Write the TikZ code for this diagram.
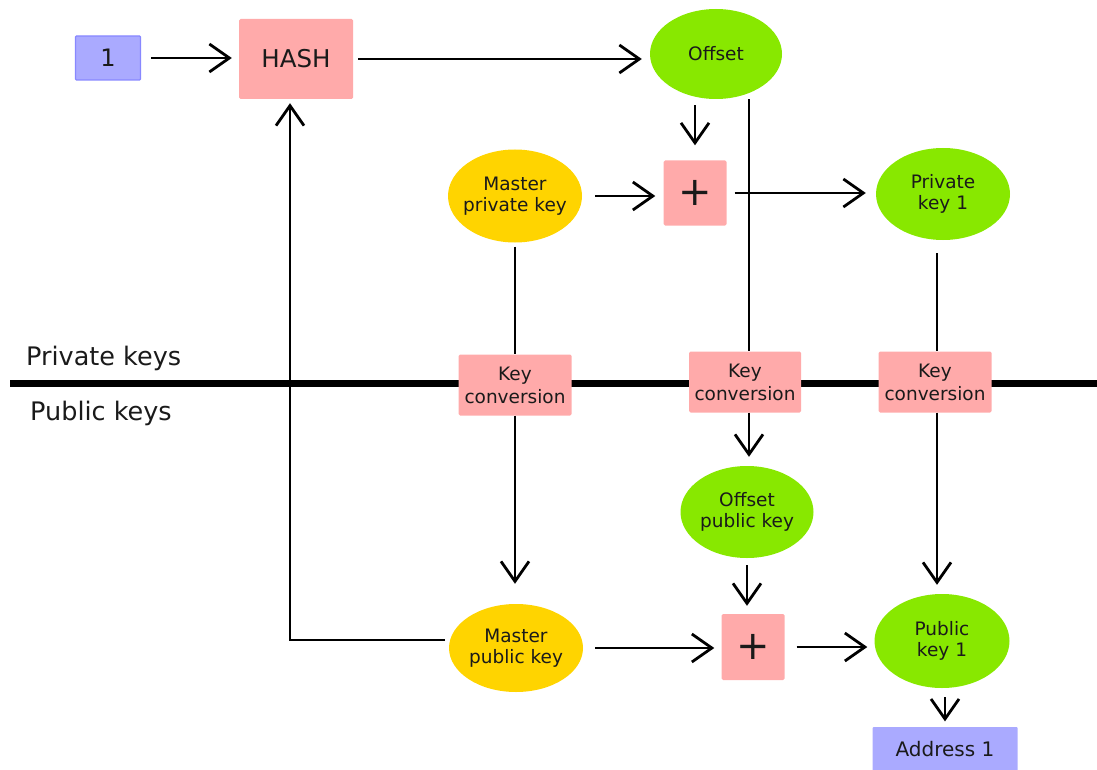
\documentclass[tikz,border=0pt]{standalone}
\usepackage{fontspec}
\setmainfont{DejaVu Sans}
\usetikzlibrary{arrows.meta,shapes.geometric}
\definecolor{pinkbox}{HTML}{FFAAAA}
\definecolor{bluebox}{HTML}{AAAAFF}
\definecolor{blueedge}{HTML}{8888FF}
\definecolor{greenell}{HTML}{88E800}
\definecolor{yellowell}{HTML}{FFD400}
\definecolor{txt}{HTML}{1A1A1A}
\tikzset{
  pbox/.style={rectangle, rounded corners=1.5pt, fill=pinkbox, draw=none, inner sep=0pt, text=txt, align=center},
  bbox/.style={rectangle, rounded corners=1pt, fill=bluebox, draw=blueedge, line width=1.2pt, inner sep=0pt, text=txt},
  ell/.style={ellipse, draw=none, inner xsep=-10pt, inner ysep=-4pt, text=txt, align=center, font=\fontsize{18.5pt}{21pt}\selectfont},
  gell/.style={ell, fill=greenell},
  yell/.style={ell, fill=yellowell},
  kc/.style={pbox, minimum width=113pt, minimum height=61pt, font=\fontsize{18.5pt}{23pt}\selectfont},
  plusbox/.style={pbox, minimum width=63pt, minimum height=65pt, font=\fontsize{40pt}{40pt}\selectfont},
  ln/.style={line width=2.8pt, draw=black},
  arr/.style={ln, -{Straight Barb[length=20pt,width=28pt]}},
  lbl/.style={anchor=west, text=txt, font=\fontsize{25.5pt}{28pt}\selectfont, inner sep=0pt},
}
\begin{document}
\begin{tikzpicture}[x=1pt,y=-1pt]
\useasboundingbox (0,0) rectangle (1097,770);
% divider
\coordinate (divL) at (10,383);
\coordinate (divR) at (1097,383);
\draw[line width=7pt] (divL) -- (divR);
\node[lbl] (privlbl) at (26,358) {Private keys};
\node[lbl] (publbl) at (30,413) {Public keys};

% nodes
\node[bbox, minimum width=65pt, minimum height=44pt, font=\fontsize{24pt}{24pt}\selectfont] (one) at (108,58) {1};
\node[pbox, minimum width=114pt, minimum height=80pt, font=\fontsize{24.5pt}{24pt}\selectfont] (hash) at (296,59) {HASH};
\node[gell, minimum width=132pt, minimum height=90pt] (offset) at (716,54) {Offset};
\node[yell, minimum width=134pt, minimum height=93pt] (mpk) at (515,196) {Master\\private key};
\node[plusbox] (plus1) at (695,193) {+};
\node[gell, minimum width=134pt, minimum height=92pt] (pk1) at (943,194) {Private\\key 1};
\node[kc] (kc1) at (515,385) {Key\\conversion};
\node[kc, minimum width=112pt] (kc2) at (745,382) {Key\\conversion};
\node[kc] (kc3) at (935,382) {Key\\conversion};
\node[gell, minimum width=133pt, minimum height=92pt] (opk) at (747,512) {Offset\\public key};
\node[plusbox, minimum height=66pt] (plus2) at (753,647) {+};
\node[yell, minimum width=134pt, minimum height=88pt] (mpub) at (516,648) {Master\\public key};
\node[gell, minimum width=135pt, minimum height=94pt] (pub1) at (942,641) {Public\\key 1};
\node[bbox, draw=none, minimum width=145pt, minimum height=44pt, font=\fontsize{20pt}{20pt}\selectfont] (addr) at (945,749) {Address 1};

% column coordinates
\coordinate (xoff) at (749,0);
\coordinate (xpk) at (937,0);
\coordinate (xpub) at (945,0);
\coordinate (bk) at (445,640);

% connectors
\draw[arr, shorten <=10pt, shorten >=7pt] (one.east) -- (one.east -| hash.west);
\draw[arr, shorten <=5pt, shorten >=8pt] (hash.east) -- (hash.east -| offset.west);
\draw[arr, shorten <=6pt, shorten >=15pt] (plus1.north |- offset.south) -- (plus1.north);
\draw[ln] (xoff |- offset.south) -- (xoff |- kc2.north);
\draw[arr, shorten <=13pt, shorten >=8pt] (mpk.east) -- (mpk.east -| plus1.west);
\draw[arr, shorten <=8pt, shorten >=10pt] (plus1.east) -- (plus1.east -| pk1.west);
\draw[ln, shorten <=4pt] (mpk.south) -- (kc1.north);
\draw[arr, shorten >=20pt] (kc1.south) -- (kc1.south |- mpub.north);
\draw[ln, shorten <=13pt] (xpk |- pk1.south) -- (xpk |- kc3.north);
\draw[arr, shorten >=9pt] (xpk |- kc3.south) -- (xpk |- pub1.north);
\draw[arr, shorten >=9pt] (xoff |- kc2.south) -- (xoff |- opk.north);
\draw[arr, shorten <=7pt, shorten >=8pt] (opk.south) -- (opk.south |- plus2.north);
\draw[arr, shorten <=12pt, shorten >=7pt] (mpub.east) -- (mpub.east -| plus2.west);
\draw[arr, shorten <=12pt, shorten >=7pt] (plus2.east) -- (plus2.east -| pub1.west);
\draw[arr, shorten <=9pt, shorten >=5pt] (xpub |- pub1.south) -- (xpub |- addr.north);
\draw[arr, shorten >=4pt] (bk) -| ([xshift=-6pt]hash.south);
\end{tikzpicture}
\end{document}
